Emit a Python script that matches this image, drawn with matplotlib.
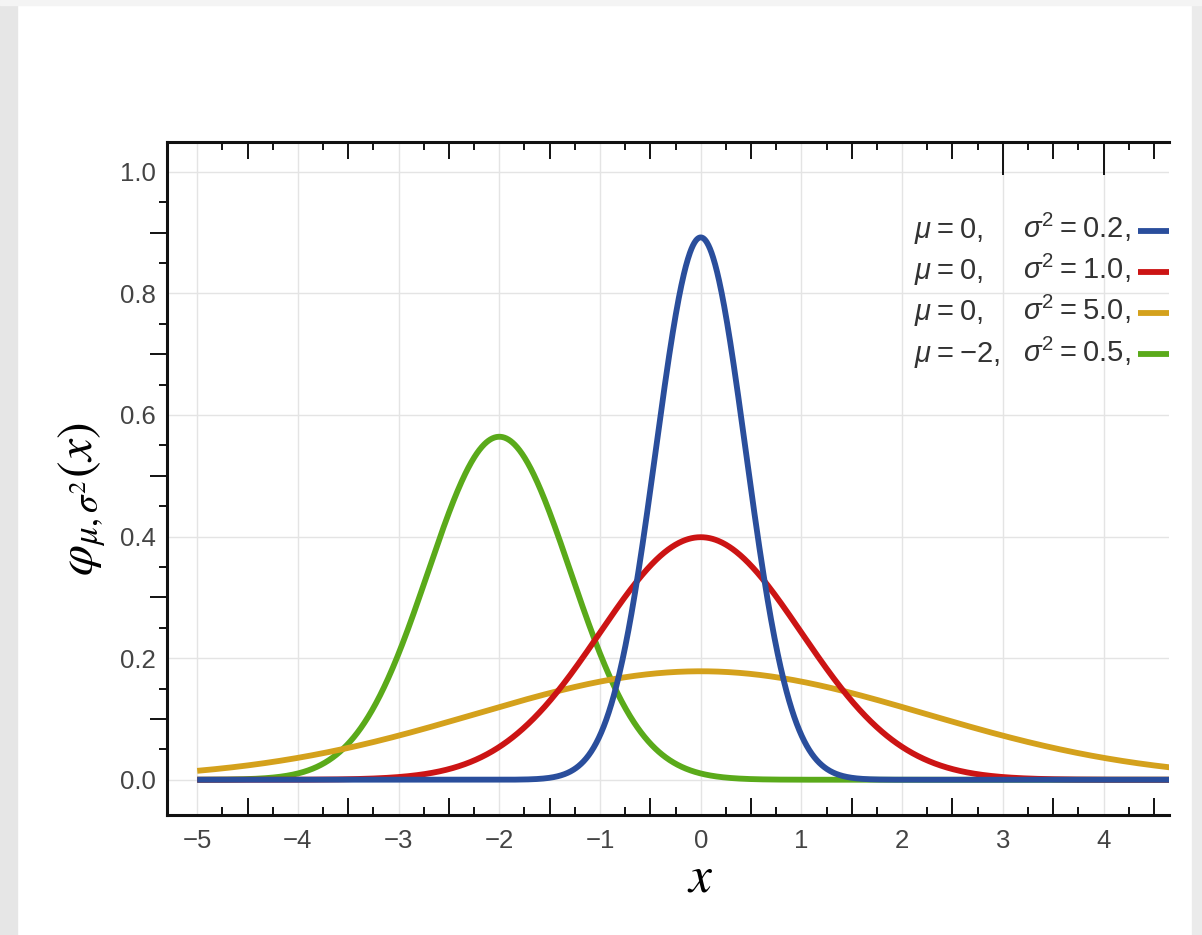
import numpy as np
import matplotlib
matplotlib.use("Agg")
import matplotlib.pyplot as plt
from matplotlib.patches import Rectangle

# normal distributions shown: mean and variance per curve
mus = [0, 0, 0, -2]
sigma2s = [0.2, 1.0, 5.0, 0.5]
colors = ["#2a4e9c", "#cc1414", "#d4a11c", "#5aaa1a"]
draw_order = [3, 2, 1, 0]   # green first, blue on top

x_ticks = [-5, -4, -3, -2, -1, 0, 1, 2, 3, 4]
y_ticks = [0.0, 0.2, 0.4, 0.6, 0.8, 1.0]

plt.rcParams["font.family"] = ["Liberation Sans", "DejaVu Sans"]
plt.rcParams["mathtext.fontset"] = "custom"
plt.rcParams["mathtext.rm"] = "Liberation Sans"
plt.rcParams["mathtext.it"] = "Liberation Sans:italic"
plt.rcParams["mathtext.bf"] = "Liberation Sans:bold"

W, H = 1202, 935
fig = plt.figure(figsize=(W / 100, H / 100), dpi=100)
fig.patch.set_facecolor("white")

# grey page margins around the white card
fig.patches.append(Rectangle((0, 0), 17 / W, 1, transform=fig.transFigure,
                             color="#e6e6e6", zorder=-10))
fig.patches.append(Rectangle((1192 / W, 0), 10 / W, 1, transform=fig.transFigure,
                             color="#ebebeb", zorder=-10))
fig.patches.append(Rectangle((0, 1 - 5 / H), 1, 5 / H, transform=fig.transFigure,
                             color="#f4f4f4", zorder=-10))

ax = fig.add_axes([167 / W, 1 - 815 / H, (1169 - 167) / W, (815 - 142) / H])
ax.set_xlim(-5.30, 4.65)
ax.set_ylim(-0.058, 1.049)

xs = np.linspace(-5, 5, 2000)
for i in draw_order:
    s2 = sigma2s[i]
    ys = np.exp(-(xs - mus[i]) ** 2 / (2 * s2)) / np.sqrt(2 * np.pi * s2)
    ax.plot(xs, ys, color=colors[i], lw=4.2, solid_capstyle="butt", zorder=3)

# grid
for t in x_ticks:
    ax.axvline(t, color="#e4e4e4", lw=1.0, zorder=0)
for t in y_ticks:
    ax.axhline(t, color="#e4e4e4", lw=1.0, zorder=0)

# spines: left, bottom, top
for side in ["left", "bottom", "top"]:
    ax.spines[side].set_linewidth(2.2)
    ax.spines[side].set_color("#111111")
ax.spines["right"].set_visible(False)

# tick labels only (marks drawn by hand below)
ax.set_xticks(x_ticks)
ax.set_xticklabels([f"{t}".replace("-", "\u2212") for t in x_ticks])
ax.set_yticks(y_ticks)
ax.set_yticklabels([f"{t:.1f}" for t in y_ticks])
ax.tick_params(axis="both", length=0, labelsize=18.5, labelcolor="#444444")
ax.tick_params(axis="x", pad=10)
ax.tick_params(axis="y", pad=8)

xt = ax.get_xaxis_transform()
yt = ax.get_yaxis_transform()
tick_kw = dict(ls="none", color="#111111", mew=1.4, clip_on=False, zorder=5)

x_short = [k / 4 for k in range(-19, 19) if k % 2]
x_long = [k / 2 for k in range(-9, 10) if k % 2]
for y0, mk in [(0, 2), (1, 3)]:
    ax.plot(x_short, [y0] * len(x_short), marker=mk, ms=6, transform=xt, **tick_kw)
    ax.plot(x_long, [y0] * len(x_long), marker=mk, ms=12.5, transform=xt, **tick_kw)
ax.plot([3, 4], [1, 1], marker=3, ms=24, transform=xt, **tick_kw)

y_short = [k * 0.05 for k in range(1, 21) if k % 2]
y_long = [k * 0.1 for k in range(1, 10) if k % 2]
ax.plot([0] * len(y_short), y_short, marker=0, ms=6, transform=yt, **tick_kw)
ax.plot([0] * len(y_long), y_long, marker=0, ms=12.5, transform=yt, **tick_kw)

# axis labels
ax.set_xlabel(r"$x$", fontsize=37, math_fontfamily="stix")
ax.xaxis.set_label_coords(0.532, -0.057)
ax.set_ylabel(r"$\varphi_{\mu,\sigma^2}(x)$", fontsize=36, math_fontfamily="stix")
ax.yaxis.set_label_coords(-0.059, 0.47)

# legend drawn as text rows with a short line sample
row_base = 0.891
row_line = 0.903
row_step = 0.0677
thin = "\u2009"
for i in range(len(mus)):
    mu_str = f"{mus[i]}".replace("-", "\u2212")
    ax.text(2.12, row_base - i * row_step, rf"$\mu${thin}={thin}{mu_str},",
            fontsize=21, color="#333333", ha="left", va="baseline", zorder=6)
    ax.text(4.27, row_base - i * row_step,
            rf"$\sigma^2${thin}={thin}{sigma2s[i]:.1f},",
            fontsize=21, color="#333333", ha="right", va="baseline", zorder=6)
    ax.plot([4.34, 4.65], [row_line - i * row_step] * 2, color=colors[i],
            lw=4.2, solid_capstyle="butt", clip_on=False, zorder=6)

fig.savefig("out.png", dpi=100)
